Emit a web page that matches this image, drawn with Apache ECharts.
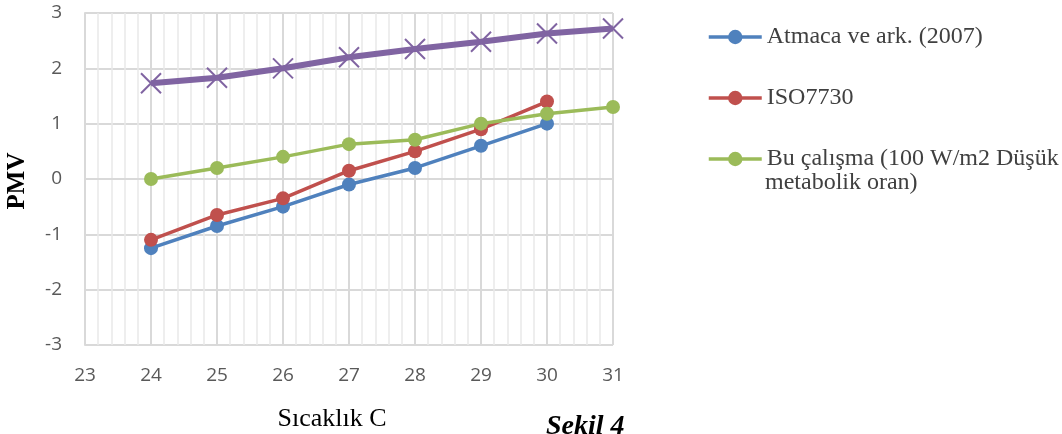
<!DOCTYPE html>
<html><head><meta charset="utf-8">
<script src="https://cdn.jsdelivr.net/npm/echarts@6/dist/echarts.min.js"></script>
<style>html,body{margin:0;padding:0;background:#fff}#c{width:1062px;height:434px}</style>
</head><body><div id="c"></div>
<script>
const temps = [24, 25, 26, 27, 28, 29, 30, 31];
const atmaca = [-1.25, -0.85, -0.5, -0.1, 0.2, 0.6, 1.0];
const iso7730 = [-1.1, -0.65, -0.35, 0.15, 0.5, 0.9, 1.4];
const buCalisma = [0.0, 0.2, 0.4, 0.63, 0.71, 1.0, 1.18, 1.3];
const purple = [1.73, 1.83, 2.0, 2.2, 2.35, 2.48, 2.63, 2.72];
const names = ['Atmaca ve ark. (2007)', 'ISO7730', 'Bu çalışma (100 W/m2 Düşük metabolik oran)'];
const pairs = v => v.map((y, i) => [temps[i], y]);

const chart = echarts.init(document.getElementById('c'), null, {renderer: 'canvas'});
const serif = '"Liberation Serif", "Times New Roman", serif';
const circle = (name, color, data) => ({
  name, type: 'line', data: pairs(data), color,
  symbol: 'circle', symbolSize: 14, showSymbol: true,
  lineStyle: {width: 3.5, color}, itemStyle: {color}, z: 3
});
chart.setOption({
  animation: false,
  grid: {left: 85, right: 449, top: 13, bottom: 89, containLabel: false},
  xAxis: {
    type: 'value', min: 23, max: 31, interval: 1,
    axisLine: {show: true, lineStyle: {color: '#d9d9d9', width: 2}},
    axisTick: {show: false},
    axisLabel: {color: '#595959', fontSize: 19, fontFamily: '"Open Sans", sans-serif', margin: 21},
    splitLine: {show: true, lineStyle: {color: '#d9d9d9', width: 2}},
    minorTick: {show: false, splitNumber: 5},
    minorSplitLine: {show: true, lineStyle: {color: '#e9e9e9', width: 1.5}}
  },
  yAxis: {
    type: 'value', min: -3, max: 3, interval: 1,
    axisLine: {show: true, lineStyle: {color: '#d9d9d9', width: 2}},
    axisTick: {show: false},
    axisLabel: {color: '#595959', fontSize: 19, fontFamily: '"Open Sans", sans-serif', margin: 23},
    splitLine: {show: true, lineStyle: {color: '#d9d9d9', width: 2}}
  },
  legend: {
    data: names, orient: 'vertical', left: 702, top: 20, itemGap: 37,
    itemWidth: 53, itemHeight: 18,
    lineStyle: {width: 3.5},
    textStyle: {fontFamily: serif, fontSize: 24, color: '#404040'},
    formatter: n => n === names[2] ? 'Bu çalışma (100 W/m2 Düşük' : n
  },
  graphic: [
    {type: 'text', x: 765, y: 183, style: {text: 'metabolik oran)', font: '24px ' + serif, fill: '#404040', verticalAlign: 'middle'}},
    {type: 'text', x: 18, y: 181, rotation: Math.PI / 2, style: {text: 'PMV', font: 'bold 25px ' + serif, fill: '#000', align: 'center', verticalAlign: 'middle'}},
    {type: 'text', x: 332, y: 406, style: {text: 'Sıcaklık C', font: '26px ' + serif, fill: '#000', align: 'center', verticalAlign: 'top'}},
    {type: 'text', x: 546, y: 413, style: {text: 'Şekil 4', font: 'italic bold 28px ' + serif, fill: '#000', align: 'left', verticalAlign: 'top'}}
  ],
  series: [
    circle(names[0], '#4f81bd', atmaca),
    circle(names[1], '#c0504d', iso7730),
    circle(names[2], '#9bbb59', buCalisma),
    {
      name: 'purple', type: 'line', data: pairs(purple), color: '#8064a2',
      symbol: 'path://M0,0L10,10M10,0L0,10', symbolSize: 20,
      lineStyle: {width: 6, color: '#8064a2'},
      itemStyle: {color: 'rgba(0,0,0,0)', borderColor: '#8064a2', borderWidth: 2}, z: 4
    }
  ]
});
</script></body></html>
